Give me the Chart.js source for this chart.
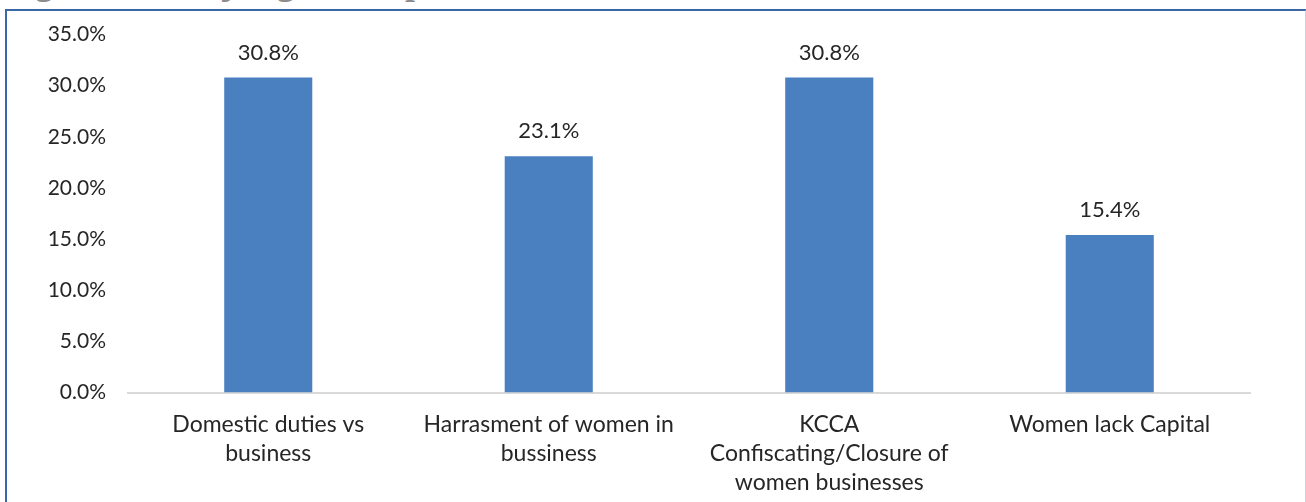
<!DOCTYPE html>
<html>
<head>
<meta charset="utf-8">
<script src="https://cdn.jsdelivr.net/npm/chart.js@4/dist/chart.umd.min.js"></script>
<style>
  html, body { margin: 0; padding: 0; background: #ffffff; }
  body { width: 1306px; height: 502px; position: relative; overflow: hidden; }
  #caption {
    position: absolute; left: 3px; top: -36px; white-space: nowrap;
    font: bold 36px "Liberation Serif", serif; line-height: 36px; color: #8c8c8c;
  }
  #frame {
    position: absolute; left: 5px; top: 9px; width: 1298px; height: 500px;
    border-left: 2px solid #3b67a6; border-top: 2px solid #3b67a6; border-right: 2px solid #c9d3df;
    pointer-events: none;
  }
  #wrap { position: absolute; left: 0; top: 0; width: 1306px; height: 502px; }
</style>
</head>
<body>
<div id="caption">Figure 10: Major gender specific issues</div>
<div id="wrap"><canvas id="chart" width="1306" height="502"></canvas></div>
<div id="frame"></div>
<script>
// Problems reported by women traders (share of respondents, %)
const categories = [
  ["Domestic duties vs", "business"],
  ["Harrasment of women in", "bussiness"],
  ["KCCA", "Confiscating/Closure of", "women businesses"],
  ["Women lack Capital"]
];
const shares = [30.8, 23.1, 30.8, 15.4];
const yTicks = [0, 5, 10, 15, 20, 25, 30, 35];

const FONT = "Lato, 'Open Sans', sans-serif";
const TEXT = "#262626";

// Percentage labels above each bar
const barValueLabels = {
  id: "barValueLabels",
  afterDatasetsDraw(chart) {
    const ctx = chart.ctx;
    const meta = chart.getDatasetMeta(0);
    ctx.save();
    ctx.font = "22px " + FONT;
    ctx.fillStyle = TEXT;
    ctx.textAlign = "center";
    ctx.textBaseline = "alphabetic";
    meta.data.forEach((bar, i) => {
      ctx.fillText(shares[i].toFixed(1) + "%", bar.x, bar.y - 18);
    });
    ctx.restore();
  }
};

new Chart(document.getElementById("chart"), {
  type: "bar",
  data: {
    labels: categories,
    datasets: [{
      data: shares,
      backgroundColor: "#4a7fc0",
      borderWidth: 0,
      categoryPercentage: 1.0,
      barPercentage: 0.314
    }]
  },
  options: {
    responsive: false,
    animation: false,
    events: [],
    layout: { padding: { left: 0, right: 56, top: 33.5, bottom: 0 } },
    plugins: { legend: { display: false }, tooltip: { enabled: false } },
    scales: {
      x: {
        grid: { display: false, drawTicks: false },
        border: { display: true, color: "#d9d9d9", width: 2 },
        ticks: {
          color: TEXT, padding: 17, maxRotation: 0, autoSkip: false,
          font: { family: FONT, size: 23, lineHeight: 1.27 }
        },
        afterFit(scale) { scale.height = 109.5; }
      },
      y: {
        min: 0, max: 35,
        afterBuildTicks(scale) { scale.ticks = yTicks.map(v => ({ value: v })); },
        grid: { display: false, drawTicks: false },
        border: { display: false },
        ticks: {
          color: TEXT, padding: 22,
          font: { family: FONT, size: 21 },
          callback: v => Number(v).toFixed(1) + "%"
        },
        afterFit(scale) { scale.width = 128; }
      }
    }
  },
  plugins: [barValueLabels]
});
</script>
</body>
</html>
